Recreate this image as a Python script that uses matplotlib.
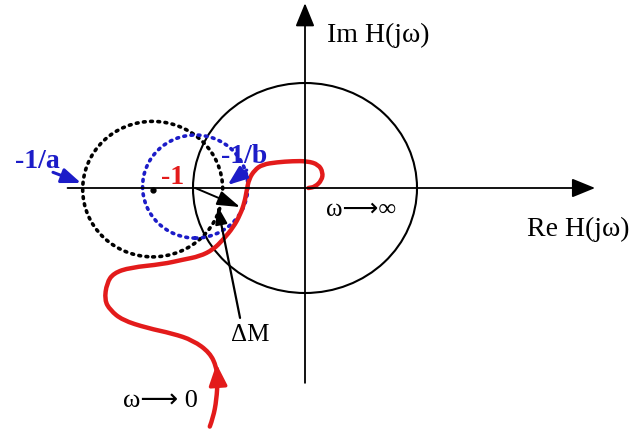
import matplotlib
matplotlib.use("Agg")
import matplotlib.pyplot as plt
from matplotlib.patches import Ellipse, PathPatch
from matplotlib.path import Path

plt.rcParams['font.family'] = ['Liberation Serif', 'DejaVu Sans']

# Nyquist plane units (unit circle radius = 1 along Re)
# red Nyquist curve, from w -> 0 (bottom) up to w -> inf (origin)
red_x = [-0.85, -0.82, -0.79, -0.78, -0.79, -0.85, -1.00, -1.18, -1.41, -1.63,
         -1.74, -1.79, -1.77, -1.71, -1.56, -1.27, -1.09, -0.94, -0.82, -0.73,
         -0.64, -0.58, -0.54, -0.52, -0.50, -0.45, -0.38, -0.25, -0.11, 0.02,
         0.12, 0.16, 0.15, 0.09, 0.03]
red_y = [-2.13, -2.05, -1.89, -1.71, -1.60, -1.47, -1.36, -1.30, -1.25, -1.18,
         -1.09, -1.00, -0.85, -0.76, -0.71, -0.68, -0.64, -0.61, -0.55, -0.46,
         -0.35, -0.24, -0.13, -0.02, 0.08, 0.16, 0.21, 0.23, 0.24, 0.24,
         0.21, 0.14, 0.07, 0.01, 0.00]

# circles: (center x, center y, width, height)
unit_circle = (0.0, 0.0, 2.0, 1.875)
circle_a = (-1.36, -0.01, 1.25, 1.21)
circle_b = (-0.98, 0.013, 0.94, 0.92)

# axes extents
re_axis = (-2.12, 2.59)
im_axis = (-1.74, 1.65)

crit_point = (-0.98, 0.0)
margin_tip = (-0.58, -0.17)
dm_tail = (-0.58, -1.16)
dm_tip = (-0.78, -0.16)
a_tail, a_tip = (-2.25, 0.14), (-2.0, 0.045)
b_tail, b_tip = (-0.52, 0.16), (-0.69, 0.027)
center_a_dot = (-1.36, -0.02)

RED = '#e31b1b'
BLUE = '#1c1cc8'

fig = plt.figure(figsize=(6.31, 4.32), dpi=100)
ax = fig.add_axes([0, 0, 1, 1])
ax.set_xlim(-305 / 112, 326 / 112)
ax.set_ylim(-244 / 112, 188 / 112)
ax.axis('off')


def arrow(tip, tail, color='black', lw=1.3, size=12, hl=1.0, hw=0.4):
    ax.annotate('', xy=tip, xytext=tail,
                arrowprops=dict(arrowstyle='-|>,head_length=%g,head_width=%g' % (hl, hw),
                                color=color, lw=lw, mutation_scale=size,
                                shrinkA=0, shrinkB=0))


# axes with arrows
arrow((re_axis[1], 0), (re_axis[0], 0), lw=1.3, size=13, hl=1.1, hw=0.45)
arrow((0, im_axis[1]), (0, im_axis[0]), lw=1.3, size=13, hl=1.1, hw=0.45)

# circles
cx, cy, w, h = unit_circle
ax.add_patch(Ellipse((cx, cy), w, h, fill=False, ec='black', lw=1.5))
cx, cy, w, h = circle_a
ax.add_patch(Ellipse((cx, cy), w, h, fill=False, ec='black', lw=2.6,
                     ls=(0, (0.5, 1.5)), capstyle='round'))
cx, cy, w, h = circle_b
ax.add_patch(Ellipse((cx, cy), w, h, fill=False, ec=BLUE, lw=2.6,
                     ls=(0, (0.5, 1.5)), capstyle='round'))
ax.plot(*center_a_dot, 'o', color='black', ms=3.5)

# nyquist curve, smoothed with quadratic bezier segments through midpoints
pts = list(zip(red_x, red_y))
verts = [pts[0]]
codes = [Path.MOVETO]
for i in range(1, len(pts) - 1):
    mid = ((pts[i][0] + pts[i + 1][0]) / 2, (pts[i][1] + pts[i + 1][1]) / 2)
    verts += [pts[i], mid]
    codes += [Path.CURVE3, Path.CURVE3]
verts.append(pts[-1])
codes.append(Path.LINETO)
ax.add_patch(PathPatch(Path(verts, codes), fill=False, ec=RED, lw=3.2,
                       capstyle='round', joinstyle='round'))
arrow((red_x[4], red_y[4] + 0.03), (red_x[3], red_y[3]), color=RED, lw=2.5, size=10, hl=1.3, hw=0.55)

# margin arrow from -1 and delta M pointer
arrow(margin_tip, crit_point, lw=1.4, size=10, hl=1.4, hw=0.45)
arrow(dm_tip, dm_tail, lw=1.6, size=9, hl=1.2, hw=0.4)

# -1/a and -1/b pointers
arrow(a_tip, a_tail, color=BLUE, lw=2.2, size=9, hl=1.3, hw=0.5)
arrow(b_tip, b_tail, color=BLUE, lw=2.2, size=9, hl=1.3, hw=0.5)

# labels
ax.text(0.65, 1.36, 'Im H(jω)', fontsize=20, ha='center', va='center')
ax.text(2.9, -0.37, 'Re H(jω)', fontsize=20, ha='right', va='center')
ax.text(0.5, -0.2, 'ω⟶∞', fontsize=18, ha='center', va='center')
ax.text(-1.29, -1.9, 'ω⟶ 0', fontsize=19, ha='center', va='center')
ax.text(-0.49, -1.31, 'ΔM', fontsize=18, ha='center', va='center')
ax.text(-2.39, 0.24, '-1/a', fontsize=20, fontweight='bold', color=BLUE, ha='center', va='center')
ax.text(-0.54, 0.28, '-1/b', fontsize=20, fontweight='bold', color=BLUE, ha='center', va='center')
ax.text(-1.18, 0.09, '-1', fontsize=20, fontweight='bold', color=RED, ha='center', va='center')

fig.savefig('out.png', dpi=100)
